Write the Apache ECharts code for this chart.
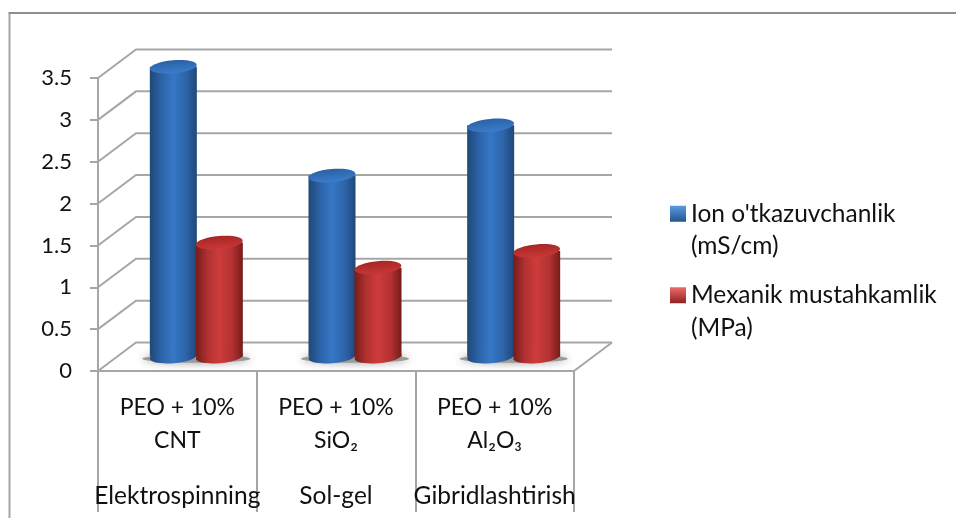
<!DOCTYPE html>
<html>
<head>
<meta charset="utf-8">
<style>
  html, body { margin: 0; padding: 0; background: #fff; }
  #chart { width: 956px; height: 518px; }
</style>
<script src="https://cdn.jsdelivr.net/npm/echarts@6/dist/echarts.min.js"></script>
</head>
<body>
<div id="chart"></div>
<script>
var categories = ['PEO + 10%\nCNT', 'PEO + 10%\nSiO₂', 'PEO + 10%\nAl₂O₃'];
var methods = ['Elektrospinning', 'Sol-gel', 'Gibridlashtirish'];
var ionValues = [3.5, 2.2, 2.8];
var mechValues = [1.4, 1.1, 1.3];
var yTicks = [0, 0.5, 1, 1.5, 2, 2.5, 3, 3.5];
var ionName = "Ion o'tkazuvchanlik\n(mS/cm)";
var mechName = 'Mexanik mustahkamlik\n(MPa)';

var FONT = 'Lato';
var GRAY = '#a6a6a6';
// fake 3d depth of the floor
var DEPTH_X = 38;
var DEPTH_Y = -28.5;
var BAR_W = 47;

function hGrad(edge, mid, light) {
  return new echarts.graphic.LinearGradient(0, 0, 1, 0, [
    { offset: 0, color: edge },
    { offset: 0.25, color: mid },
    { offset: 0.5, color: light },
    { offset: 0.78, color: mid },
    { offset: 1, color: edge }
  ]);
}

function vGrad(top, bottom) {
  return new echarts.graphic.LinearGradient(0, 0, 0, 1, [
    { offset: 0, color: top },
    { offset: 1, color: bottom }
  ]);
}

function renderWall(params, api) {
  var p = api.coord([0, api.value(0)]);
  var left = params.coordSys.x;
  var right = left + params.coordSys.width;
  var children = [{
    type: 'polyline',
    shape: { points: [[left, p[1]], [left + DEPTH_X, p[1] + DEPTH_Y], [right + DEPTH_X, p[1] + DEPTH_Y]] },
    style: { fill: null, stroke: GRAY, lineWidth: 2 }
  }];
  if (api.value(0) === 0) {
    children.push({
      type: 'line',
      shape: { x1: right, y1: p[1], x2: right + DEPTH_X, y2: p[1] + DEPTH_Y },
      style: { stroke: GRAY, lineWidth: 2 }
    });
  }
  return { type: 'group', children: children };
}

function renderShadow(params, api) {
  var p = api.coord([api.value(0), 0]);
  return {
    type: 'ellipse',
    shape: { cx: p[0] + DEPTH_X / 2, cy: p[1] + DEPTH_Y / 2 + 2, rx: 54, ry: 4 },
    style: { fill: '#9a9a9a', shadowColor: '#9a9a9a', shadowBlur: 9 }
  };
}

function makeBars(side, body, topFill) {
  return function (params, api) {
    var base = api.coord([api.value(0), 0]);
    var top = api.coord([api.value(0), api.value(1)]);
    var cx = base[0] + DEPTH_X / 2 + side * 23;
    var yb = base[1] + DEPTH_Y / 2;
    var yt = top[1] + DEPTH_Y / 2 + 3;
    var rx = BAR_W / 2;
    var ry = 6.5;
    var tilt = 0.09;
    return {
      type: 'group',
      children: [{
        type: 'rect',
        shape: { x: cx - rx, y: yt, width: BAR_W, height: yb - yt },
        style: { fill: body }
      }, {
        type: 'ellipse',
        shape: { cx: cx, cy: yb, rx: rx, ry: ry },
        originX: cx, originY: yb, rotation: tilt,
        style: { fill: body }
      }, {
        type: 'ellipse',
        shape: { cx: cx, cy: yt, rx: rx, ry: ry },
        originX: cx, originY: yt, rotation: tilt,
        style: { fill: topFill }
      }]
    };
  };
}

var chart = echarts.init(document.getElementById('chart'), null, { renderer: 'canvas' });

var option = {
  backgroundColor: '#fff',
  animation: false,
  grid: { left: 98, right: 382, top: 78, bottom: 147 },
  xAxis: [{
    type: 'category',
    data: categories,
    position: 'bottom',
    axisLine: { show: true, lineStyle: { color: GRAY, width: 2 } },
    axisTick: { show: true, alignWithLabel: false, interval: 0, length: 141, lineStyle: { color: GRAY, width: 2 } },
    axisLabel: { color: '#111', fontFamily: FONT, fontSize: 23, lineHeight: 33, margin: 20, interval: 0 }
  }, {
    type: 'category',
    data: methods,
    position: 'bottom',
    axisLine: { show: false },
    axisTick: { show: false },
    axisLabel: { color: '#111', fontFamily: FONT, fontSize: 24.5, margin: 113, interval: 0 }
  }],
  yAxis: {
    type: 'value',
    min: 0,
    max: 3.5,
    interval: 0.5,
    axisLine: { show: true, lineStyle: { color: GRAY, width: 2 } },
    axisTick: { show: true, length: 8, lineStyle: { color: GRAY, width: 2 } },
    splitLine: { show: false },
    axisLabel: { color: '#111', fontFamily: FONT, fontSize: 22, margin: 26, padding: [7, 0, 0, 0] }
  },
  legend: {
    orient: 'vertical',
    left: 665,
    top: 160,
    itemWidth: 16,
    itemHeight: 16,
    itemGap: -16,
    selectedMode: false,
    formatter: function (name) { return ' \n' + name; },
    textStyle: { color: '#111', fontFamily: FONT, fontSize: 24.5, lineHeight: 32.5 },
    data: [
      { name: ionName, icon: 'rect', itemStyle: { color: vGrad('#5b9be0', '#22558f') } },
      { name: mechName, icon: 'rect', itemStyle: { color: vGrad('#ee6a68', '#8c2423') } }
    ]
  },
  graphic: [{
    type: 'line',
    silent: true,
    shape: { x1: 9.5, y1: 13, x2: 9.5, y2: 518 },
    style: { stroke: '#a6a6a6', lineWidth: 2 }
  }, {
    type: 'line',
    silent: true,
    shape: { x1: 8.5, y1: 13, x2: 956, y2: 13 },
    style: { stroke: '#8f8f8f', lineWidth: 2 }
  }],
  series: [{
    type: 'custom',
    name: 'wall',
    silent: true,
    z: 1,
    renderItem: renderWall,
    data: yTicks.map(function (v) { return [v]; }),
    encode: { y: 0 }
  }, {
    type: 'custom',
    name: 'shadow',
    silent: true,
    z: 2,
    renderItem: renderShadow,
    data: categories.map(function (c, i) { return [i]; })
  }, {
    type: 'custom',
    name: ionName,
    z: 3,
    renderItem: makeBars(-1, hGrad('#1f4878', '#2d63a8', '#3677c6'), vGrad('#2a61a5', '#3c7ccb')),
    data: ionValues.map(function (v, i) { return [i, v]; }),
    encode: { x: 0, y: 1 }
  }, {
    type: 'custom',
    name: mechName,
    z: 4,
    renderItem: makeBars(1, hGrad('#761b1b', '#b23131', '#cd3c3b'), vGrad('#a62626', '#c93836')),
    data: mechValues.map(function (v, i) { return [i, v]; }),
    encode: { x: 0, y: 1 }
  }]
};

chart.setOption(option);
</script>
</body>
</html>
